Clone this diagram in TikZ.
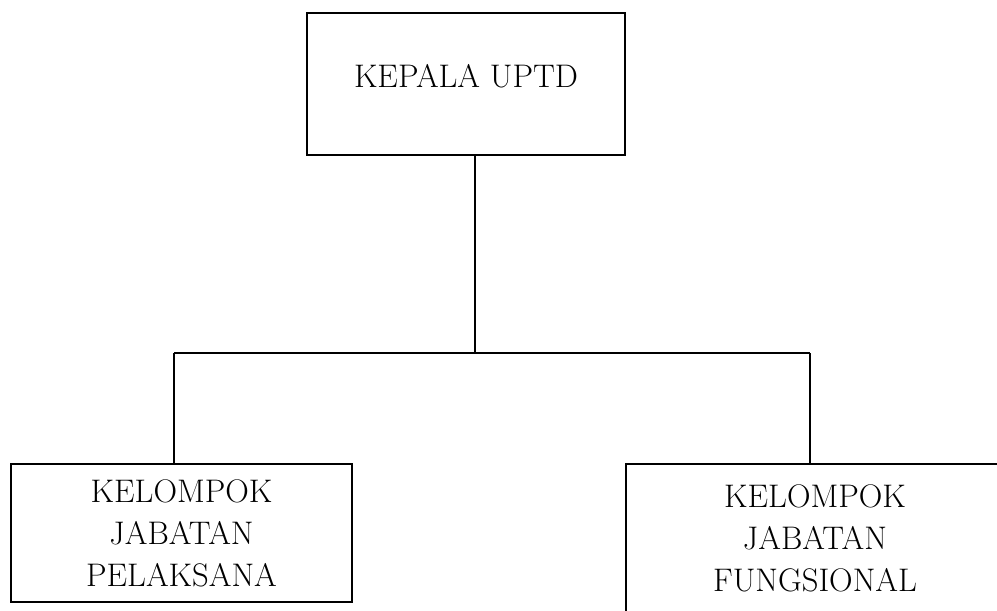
\documentclass[tikz,border=0pt]{standalone}
\usepackage{fontspec}
\begin{document}
\begin{tikzpicture}[x=0.75pt,y=-0.75pt,line width=1.3pt,
		kotak/.style={draw,rectangle,inner sep=0,align=center,
			font=\fontsize{24.5}{31.5}\selectfont},
		garis/.style={line width=1.3pt}]
		\clip (0,0) rectangle (997,611);
		\begin{scope}[nodes={kotak}]
		\node[minimum width=238.5pt,minimum height=106.5pt,
			text height=17pt,text depth=12.5pt] (kepala) at (466,84) {KEPALA UPTD};
		\node[minimum width=255.75pt,minimum height=103.5pt] (pelaksana) at (181.5,533)
			{KELOMPOK\\JABATAN\\PELAKSANA};
		\node[minimum width=283.5pt,minimum height=111pt] (fungsional) at (815,538)
			{KELOMPOK\\JABATAN\\FUNGSIONAL};
		\end{scope}
		\coordinate (cabang) at (475,353);
		\coordinate (kiri) at (174,353);
		\coordinate (kanan) at (810,353);
		\draw[garis] (kepala.south -| cabang) -- (cabang);
		\draw[garis] (kiri) -- (kanan);
		\draw[garis] (kiri) -- (pelaksana.north -| kiri);
		\draw[garis] (kanan) -- (fungsional.north -| kanan);
		\end{tikzpicture}
\end{document}
